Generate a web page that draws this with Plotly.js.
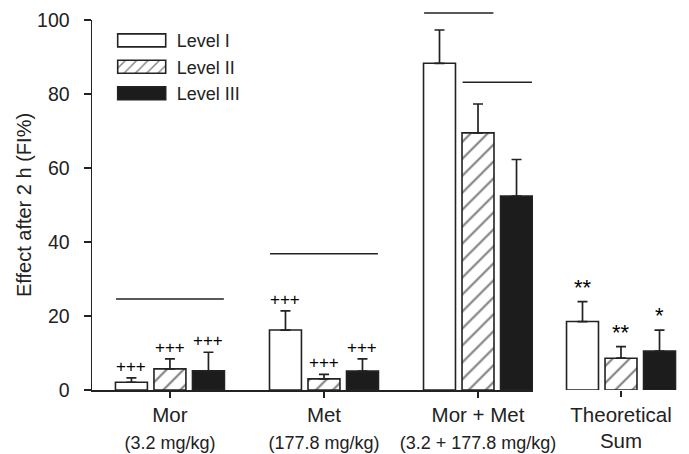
<!DOCTYPE html>
<html>
<head>
<meta charset="utf-8">
<script src="https://cdn.plot.ly/plotly-3.0.1.min.js"></script>
<style>
  html, body { margin: 0; padding: 0; background: #fff; }
  #chart { width: 689px; height: 454px; }
</style>
</head>
<body>
<div id="chart"></div>
<script>
// ---- data ----
const categories = ['Mor', 'Met', 'Mor + Met', 'Theoretical Sum'];
const tickMain = ['Mor', 'Met', 'Mor + Met', 'Theoretical'];
const tickSub = ['(3.2 mg/kg)', '(177.8 mg/kg)', '(3.2 + 177.8 mg/kg)', 'Sum'];
const levels = ['Level I', 'Level II', 'Level III'];

const level1 = [2.1, 16.2, 88.3, 18.5];
const level2 = [5.7, 3.0, 69.5, 8.6];
const level3 = [5.2, 5.1, 52.4, 10.5];
const err1 = [1.2, 5.2, 9.0, 5.4];
const err2 = [2.7, 1.2, 7.8, 3.1];
const err3 = [5.0, 3.3, 9.9, 5.7];

const mark1 = ['+++', '+++', '', '**'];
const mark2 = ['+++', '+++', '', '**'];
const mark3 = ['+++', '+++', '', '*'];

// significance lines: group index, first level, last level, height
const sigGroup = [0, 1, 2, 2];
const sigFrom = [0, 0, 0, 1];
const sigTo = [2, 2, 1, 2];
const sigY = [24.6, 36.8, 101.9, 83.2];

// ---- build ----
const ink = '#222';
const values = [level1, level2, level3];
const errors = [err1, err2, err3];
const marks = [mark1, mark2, mark3];
const fills = [
  {color: '#ffffff'},
  {color: '#ffffff', pattern: {shape: '/', size: 12, solidity: 0.17, fgcolor: '#000', bgcolor: '#ffffff', fillmode: 'overlay'}},
  {color: '#1c1c1c'}
];

const main = categories.slice(0, 3);
const side = categories.slice(3);
const data = [];
levels.forEach((name, k) => {
  const marker = Object.assign({line: {color: ink, width: 1.6}}, fills[k]);
  const ey = (arr) => ({type: 'data', symmetric: false, array: arr, arrayminus: arr.map(() => 0),
                        color: ink, thickness: 1.7, width: 5});
  data.push({
    type: 'bar', name: name, x: main, y: values[k].slice(0, 3),
    error_y: ey(errors[k].slice(0, 3)), marker: marker, legendgroup: name,
    xaxis: 'x', yaxis: 'y', hoverinfo: 'skip'
  });
  data.push({
    type: 'bar', name: name, x: side, y: values[k].slice(3),
    error_y: ey(errors[k].slice(3)), marker: marker, legendgroup: name, showlegend: false,
    xaxis: 'x2', yaxis: 'y', hoverinfo: 'skip'
  });
});

const slot = 0.25;
const annotations = [];
levels.forEach((name, k) => {
  categories.forEach((c, i) => {
    const txt = marks[k][i];
    if (!txt) return;
    const onSide = i >= 3;
    const isStar = txt.indexOf('*') >= 0;
    annotations.push({
      xref: onSide ? 'x2' : 'x', yref: 'y',
      x: (onSide ? i - 3 : i) + (k - 1) * slot,
      y: values[k][i] + errors[k][i],
      text: txt, showarrow: false, yanchor: 'bottom', xanchor: 'center',
      yshift: 0,
      font: {family: 'Liberation Sans, Arial, sans-serif', size: isStar ? 22 : 17, color: '#000'}
    });
  });
});

const half = 0.1;
const shapes = sigGroup.map((g, j) => ({
  type: 'line', xref: 'x', yref: 'paper',
  x0: g + (sigFrom[j] - 1) * slot - half, x1: g + (sigTo[j] - 1) * slot + half,
  y0: sigY[j] / 100, y1: sigY[j] / 100,
  line: {color: ink, width: 1.5}
}));

const tickText = tickMain.map((m, i) => i < 3
  ? m + '<br><span style="font-size:18px">' + tickSub[i] + '</span>'
  : m + '<br>' + tickSub[i]);

const font = {family: 'Liberation Sans, Arial, sans-serif', color: ink};
const layout = {
  width: 689, height: 454,
  margin: {l: 92, r: 9, t: 20, b: 64, pad: 0},
  paper_bgcolor: '#fff', plot_bgcolor: '#fff',
  font: Object.assign({size: 18}, font),
  barmode: 'group', bargap: 0.25, bargroupgap: 0.17,
  showlegend: true,
  legend: {
    x: 0.025, y: 0.994, xanchor: 'left', yanchor: 'top',
    bgcolor: 'rgba(0,0,0,0)', borderwidth: 0,
    font: Object.assign({size: 18}, font), itemwidth: 60,
    traceorder: 'normal'
  },
  xaxis: {
    domain: [0, 0.75], range: [-0.506, 2.357], type: 'category',
    tickmode: 'array', tickvals: main, ticktext: tickText.slice(0, 3),
    showline: true, linecolor: ink, linewidth: 1.5,
    ticks: 'outside', ticklen: 6, tickwidth: 1.5, tickcolor: ink,
    tickfont: Object.assign({size: 20.5}, font),
    showgrid: false, zeroline: false, fixedrange: true, automargin: false
  },
  xaxis2: {
    domain: [0.7687, 1], range: [-0.5, 0.383], type: 'category', anchor: 'y',
    tickmode: 'array', tickvals: side, ticktext: tickText.slice(3),
    showline: false, ticks: 'outside', ticklen: 6, tickwidth: 1.5, tickcolor: ink,
    tickfont: Object.assign({size: 20.5}, font),
    showgrid: false, zeroline: false, fixedrange: true, automargin: false
  },
  yaxis: {
    range: [0, 100], dtick: 20, tick0: 0,
    showline: true, linecolor: ink, linewidth: 1.5,
    ticks: 'outside', ticklen: 7, tickwidth: 1.5, tickcolor: ink,
    ticklabelstandoff: 10,
    tickfont: Object.assign({size: 19.5}, font),
    title: {text: 'Effect after 2 h (FI%)', font: Object.assign({size: 20}, font), standoff: 0},
    showgrid: false, zeroline: false, fixedrange: true, automargin: false
  },
  annotations: annotations,
  shapes: shapes
};

function widenSwatches(gd) {
  // long rectangular legend swatches, as in the original figure
  gd.querySelectorAll('g.legend g.legendpoints path').forEach(p => {
    p.setAttribute('d', 'M24,6.5H-24V-6.5H24Z');
  });
}

const gdEl = document.getElementById('chart');
Plotly.newPlot(gdEl, data, layout, {staticPlot: true, displayModeBar: false}).then(gd => {
  widenSwatches(gd);
  gd.on && gd.on('plotly_afterplot', () => widenSwatches(gd));
  setTimeout(() => widenSwatches(gd), 50);
  setTimeout(() => widenSwatches(gd), 300);
});
</script>
</body>
</html>
